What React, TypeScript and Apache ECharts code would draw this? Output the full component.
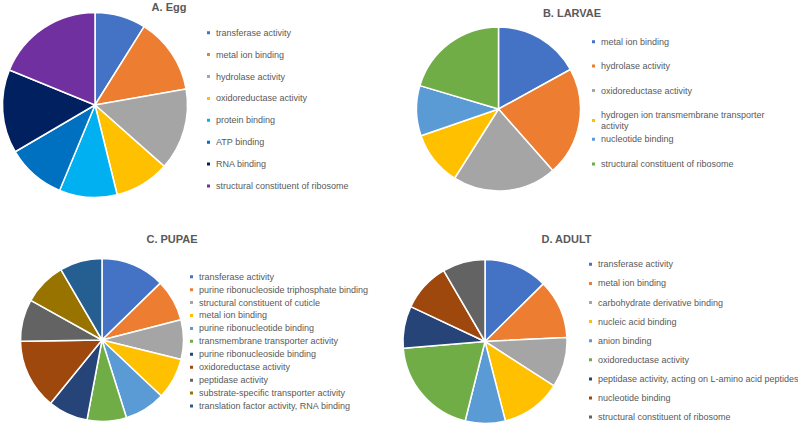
import React, { useEffect, useRef } from "react";
import * as echarts from "echarts";

// ---------- data ----------
const eggCategories = [
  "transferase activity",
  "metal ion binding",
  "hydrolase activity",
  "oxidoreductase activity",
  "protein binding",
  "ATP binding",
  "RNA binding",
  "structural constituent of ribosome",
];
const eggValues = [8.9, 13.3, 14.3, 9.6, 10.1, 10.3, 14.6, 18.8];

const larvaeCategories = [
  "metal ion binding",
  "hydrolase activity",
  "oxidoreductase activity",
  "hydrogen ion transmembrane transporter activity",
  "nucleotide binding",
  "structural constituent of ribosome",
];
const larvaeValues = [17.0, 21.5, 20.5, 10.7, 9.9, 20.4];

const pupaeCategories = [
  "transferase activity",
  "purine ribonucleoside triphosphate binding",
  "structural constituent of cuticle",
  "metal ion binding",
  "purine ribonucleotide binding",
  "transmembrane transporter activity",
  "purine ribonucleoside binding",
  "oxidoreductase activity",
  "peptidase activity",
  "substrate-specific transporter activity",
  "translation factor activity, RNA binding",
];
const pupaeValues = [12.7, 8.3, 7.8, 8.2, 8.1, 7.8, 7.9, 13.9, 8.3, 8.5, 8.4];

const adultCategories = [
  "transferase activity",
  "metal ion binding",
  "carbohydrate derivative binding",
  "nucleic acid binding",
  "anion binding",
  "oxidoreductase activity",
  "peptidase activity, acting on L-amino acid peptides",
  "nucleotide binding",
  "structural constituent of ribosome",
];
const adultValues = [12.6, 11.6, 9.9, 11.9, 7.9, 19.8, 8.3, 9.6, 8.4];

// ---------- styles ----------
const eggColors = ["#4472C4", "#ED7D31", "#A5A5A5", "#FFC000", "#00B0F0", "#0070C0", "#002060", "#7030A0"];
const officeColors = [
  "#4472C4", "#ED7D31", "#A5A5A5", "#FFC000", "#5B9BD5", "#70AD47",
  "#264478", "#9E480E", "#636363", "#997300", "#255E91",
];

const TEXT = "#595959";
const FONT = "Liberation Sans";

type LegendCfg = { from: number; to: number; left: number; top: number; gap: number };
type Panel = {
  ox: number; oy: number;
  title: string; tx: number; ty: number;
  cats: string[]; vals: number[]; colors: string[];
  cx: number; cy: number; r: number;
  legends: LegendCfg[];
};

const panels: Panel[] = [
  {
    ox: 0, oy: 0, title: "A. Egg", tx: 169, ty: 7,
    cats: eggCategories, vals: eggValues, colors: eggColors,
    cx: 95, cy: 105, r: 92.5,
    legends: [{ from: 0, to: 8, left: 205, top: 27.2, gap: 10.9 }],
  },
  {
    ox: 399, oy: 0, title: "B. LARVAE", tx: 572, ty: 12.5,
    cats: larvaeCategories, vals: larvaeValues, colors: officeColors,
    cx: 498.5, cy: 109, r: 82,
    legends: [
      { from: 0, to: 4, left: 590, top: 36.2, gap: 13.4 },
      { from: 4, to: 6, left: 590, top: 133.8, gap: 13.7 },
    ],
  },
  {
    ox: 0, oy: 212, title: "C. PUPAE", tx: 172, ty: 239.3,
    cats: pupaeCategories, vals: pupaeValues, colors: officeColors,
    cx: 102, cy: 340, r: 81.5,
    legends: [{ from: 0, to: 11, left: 188, top: 271.2, gap: 1.93 }],
  },
  {
    ox: 399, oy: 212, title: "D. ADULT", tx: 566.5, ty: 239.3,
    cats: adultCategories, vals: adultValues, colors: officeColors,
    cx: 485, cy: 341.5, r: 82,
    legends: [{ from: 0, to: 9, left: 587, top: 258.8, gap: 8.1 }],
  },
];

function buildOption(p: Panel) {
  return {
    animation: false,
    color: p.colors,
    graphic: [
      {
        type: "text",
        x: p.tx - p.ox,
        y: p.ty - p.oy,
        style: {
          text: p.title,
          fill: TEXT,
          font: `bold 11px "${FONT}"`,
          textAlign: "center",
          textVerticalAlign: "middle",
        },
      },
    ],
    legend: p.legends.map((l) => ({
      orient: "vertical",
      left: l.left - p.ox,
      top: l.top - p.oy,
      padding: 0,
      itemGap: l.gap,
      itemWidth: 5,
      itemHeight: 5,
      icon: "rect",
      selectedMode: false,
      data: p.cats.slice(l.from, l.to),
      formatter: (name: string) =>
        name === "hydrogen ion transmembrane transporter activity"
          ? "hydrogen ion transmembrane transporter\nactivity"
          : name,
      textStyle: { fontSize: 9, fontFamily: FONT, color: TEXT, lineHeight: 11 },
    })),
    series: [
      {
        type: "pie",
        center: [p.cx - p.ox, p.cy - p.oy],
        radius: p.r,
        startAngle: 90,
        clockwise: true,
        label: { show: false },
        labelLine: { show: false },
        emphasis: { disabled: true },
        itemStyle: { borderColor: "#ffffff", borderWidth: 1.5 },
        data: p.cats.map((name, i) => ({ name, value: p.vals[i] })),
      },
    ],
  };
}

function PanelChart({ p }: { p: Panel }) {
  const ref = useRef<HTMLDivElement>(null);
  useEffect(() => {
    if (!ref.current) return;
    const chart = echarts.init(ref.current, undefined, { renderer: "svg" });
    chart.setOption(buildOption(p) as any);
    return () => chart.dispose();
  }, [p]);
  return (
    <div
      ref={ref}
      style={{ position: "absolute", left: p.ox, top: p.oy, width: 399, height: 212 }}
    />
  );
}

export default function App() {
  return (
    <div
      style={{
        position: "absolute",
        left: 0,
        top: 0,
        width: 798,
        height: 424,
        background: "#ffffff",
        overflow: "hidden",
      }}
    >
      {panels.map((p) => (
        <PanelChart key={p.title} p={p} />
      ))}
    </div>
  );
}
